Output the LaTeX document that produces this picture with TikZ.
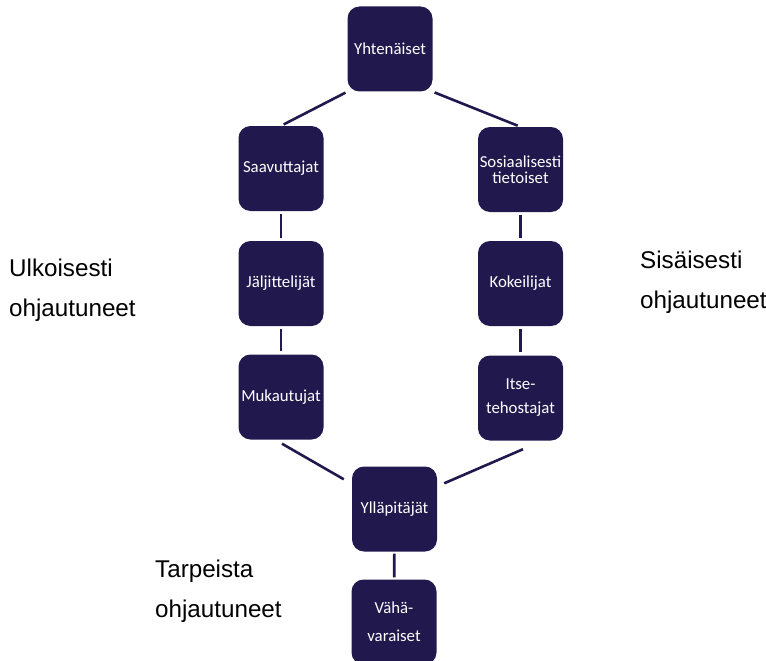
\documentclass[tikz,border=0pt]{standalone}
\usepackage{fontspec}
\setmainfont{Liberation Sans}
\newfontfamily\boxfont{Carlito}
\usetikzlibrary{calc}
\definecolor{navy}{RGB}{33,25,78}
\begin{document}
\begin{tikzpicture}[x=1pt,y=-1pt,
  box/.style={fill=navy, rounded corners=12pt, minimum width=85pt, minimum height=85pt,
    inner sep=0pt, text=white, align=center, font=\boxfont\fontsize{16.8}{16.5}\selectfont},
  link/.style={draw=navy, line width=2.6pt},
  side/.style={anchor=north west, align=left, inner sep=0pt, font=\fontsize{24.2}{40}\selectfont}]
\useasboundingbox (0,0) rectangle (766,661);
\node[box] (yh) at (390,49) {Yhtenäiset};
\node[box] (sa) at (281,168.5) {Saavuttajat};
\node[box] (so) at (520.5,169.5) {Sosiaalisesti\\tietoiset};
\node[box] (ja) at (281,283.5) {Jäljittelijät};
\node[box] (ko) at (520.5,283.5) {Kokeilijat};
\node[box] (mu) at (281,397) {Mukautujat};
\node[box, font=\boxfont\fontsize{16.8}{24}\selectfont] (it) at (520.5,398) {Itse-\\tehostajat};
\node[box] (yl) at (394.5,509) {Ylläpitäjät};
\node[box, font=\boxfont\fontsize{16.8}{28}\selectfont] (va) at (394,622) {Vähä-\\varaiset};

\draw[link, shorten <=2pt, shorten >=3pt] (yh.south west) -- (sa.north);
\draw[link, shorten <=2pt, shorten >=3pt] (yh.south east) -- (so.north);
\draw[link, shorten <=3pt, shorten >=3pt] (sa) -- (ja);
\draw[link, shorten <=3pt, shorten >=3pt] (ja) -- (mu);
\draw[link, shorten <=3pt, shorten >=3pt] (so) -- (ko);
\draw[link, shorten <=3pt, shorten >=3pt] (ko) -- (it);
\draw[link] ($(mu.south)+(1,4)$) -- ($(yl.north west)+(-8,13)$);
\draw[link] ($(it.south)+(2.5,8.5)$) -- ($(yl.north east)+(7,17)$);
\draw[link, shorten <=2pt, shorten >=2pt] (yl) -- (va);

\node[side] (ul) at (9,258.5) {Ulkoisesti\\ohjautuneet};
\node[side] (si) at (640,250.5) {Sisäisesti\\ohjautuneet};
\node[side] (ta) at (155,559.5) {Tarpeista\\ohjautuneet};
\end{tikzpicture}
\end{document}
